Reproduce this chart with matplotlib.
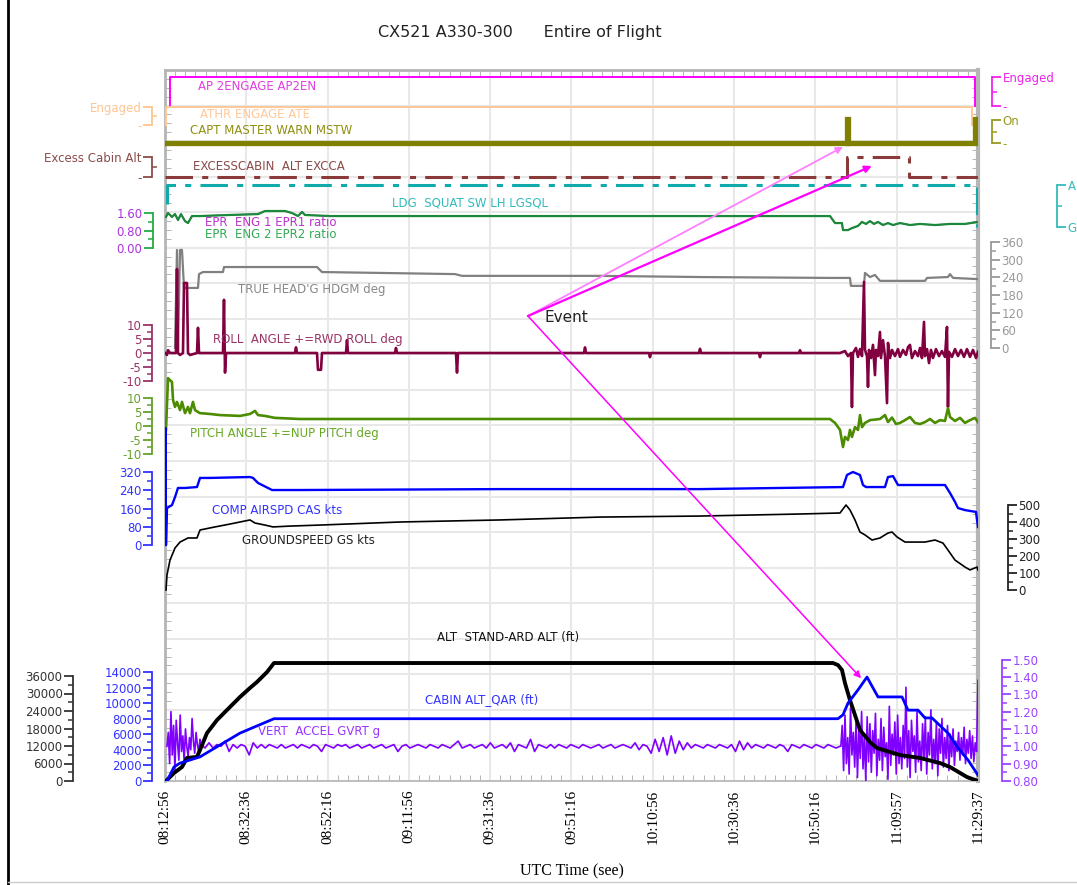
import numpy as np
import matplotlib
matplotlib.use("Agg")
import matplotlib.pyplot as plt
from matplotlib.lines import Line2D
from matplotlib.ticker import AutoMinorLocator

# ---------------- data (time in minutes after 08:12:56) ----------------
time_labels = ["08:12:56", "08:32:36", "08:52:16", "09:11:56", "09:31:36",
               "09:51:16", "10:10:56", "10:30:36", "10:50:16", "11:09:57",
               "11:29:37"]

# discrete parameters (1 = engaged / on / air)
ap_t = [1.2, 1.2, 195.9, 195.9]
ap_v = [0, 1, 1, 0]
athr_t = [0.2, 0.2, 195.2, 195.2]
athr_v = [0, 1, 1, 0]
mstw_t = [0, 165.0, 165.0, 165.15, 165.15, 196.0, 196.0, 196.3]
mstw_v = [0, 0, 1.05, 1.05, 0, 0, 1.05, 1.05]
excca_t = [0, 165.0, 165.0, 179.9, 179.9, 196.68]
excca_v = [0, 0, 1, 1, 0, 0]
ldg_t = [0.5, 0.5, 196.5, 196.5]
ldg_v = [0.55, 1, 1, 0]

epr_t = [0.24, 0.73, 1.69, 2.42, 3.14, 3.87, 4.84, 5.56, 6.53, 8.47, 15.72,
         22.50, 24.19, 29.03, 30.72, 32.18, 33.14, 33.87, 39.92, 160.88,
         162.09, 163.78, 164.02, 165.23, 166.20, 167.65, 168.62, 169.59,
         170.55, 171.52, 172.49, 173.70, 174.91, 176.12, 177.81, 180.23,
         182.65, 186.28, 189.91, 193.54, 196.68]
epr_v = [1.42, 1.60, 1.42, 1.55, 1.28, 1.55, 1.23, 1.14, 1.46, 1.46, 1.51,
         1.55, 1.69, 1.69, 1.60, 1.46, 1.65, 1.51, 1.46, 1.46, 1.14, 1.14,
         0.82, 0.82, 0.91, 1.01, 1.19, 1.10, 1.23, 1.10, 1.19, 1.05, 1.14,
         1.05, 1.14, 1.05, 1.10, 1.05, 1.10, 1.10, 1.19]

hdg_t = [2.42, 2.90, 3.14, 3.63, 4.11, 4.60, 7.98, 8.23, 9.19, 14.03, 14.27,
         36.77, 37.98, 70.16, 71.85, 105.24, 129.43, 160.88, 165.71, 165.95,
         169.10, 169.34, 170.55, 171.76, 172.97, 183.86, 184.35, 189.42,
         189.91, 190.64, 196.68]
hdg_v = [0, 333, 0, 333, 333, 204, 204, 251, 258, 258, 275, 275, 258, 251,
         245, 245, 241, 238, 238, 211, 211, 255, 241, 248, 228, 228, 238,
         241, 251, 238, 234]

roll_t = [0.00, 0.48, 0.73, 1.21, 2.66, 2.90, 3.14, 3.63, 4.35, 4.60, 5.32,
          5.56, 6.05, 7.74, 7.98, 8.23, 14.03, 14.27, 14.52, 14.76, 31.45,
          31.69, 31.93, 36.77, 37.01, 37.74, 37.98, 43.79, 44.03, 44.27,
          55.64, 55.88, 56.13, 70.40, 70.64, 70.88, 101.36, 101.61, 101.85,
          117.09, 117.33, 117.57, 129.19, 129.43, 129.67, 143.70, 143.94,
          144.18, 153.38, 153.62, 153.86,
          163.30, 164.50, 165.23, 165.95, 166.19, 166.43, 167.17, 167.65,
          168.13, 168.62, 169.10, 169.34, 169.83, 170.07, 170.31, 170.80,
          171.28, 171.76, 172.00, 172.49, 172.97, 173.21, 173.70, 174.18,
          174.67, 174.91, 175.39, 175.88, 176.60, 177.33, 177.81, 178.54,
          179.26, 179.75, 180.23, 180.71, 181.44, 182.17, 182.65, 183.13,
          183.62, 183.86, 184.35, 184.83, 185.31, 185.79, 186.52, 187.25,
          187.97, 188.70, 189.18, 189.42, 189.67, 190.39, 191.12, 191.84,
          192.57, 193.29, 194.02, 194.75, 195.47, 196.20, 196.68]
roll_v = [0, -0.7, 1.0, 0, 0, 30, 0, -0.7, 0, 25, 25, 0, -0.7, 0, 9, 0, 0,
          19, -7, 0, 0, 2, 0, 0, -6, -6, 0, 0, 4.6, 0, 0, 1.8, 0, 0, -7, 0,
          0, 2, 0, 0, -1.5, 0, 0, 1.5, 0, 0, -1.5, 0, 0, 1, 0,
          0, 0.7, -1.1, 0, -19.3, 0, 1.8, -1.4, 1.4, -1.1, 25.4, 1.1, -1.1,
          -12.1, 1.1, -1.8, 2.9, -7.9, 1.1, -1.1, 7.5, -1.8, 4.6, -1.1,
          -17.9, 3.6, -1.8, 1.1, -1.1, 1.4, -1.4, 1.1, -0.7, 2.1, 2.9, -1.8,
          0.7, -1.1, 1.8, -1.8, 11.1, -1.1, 1.4, -3.6, 1.1, -1.8, 1.4, -1.1,
          0.7, -1.4, 9.3, -19.3, 0.4, -1.4, 1.4, -1.1, 1.1, -1.4, 1.4, -1.4,
          1.1, -1.8, 0.4]

pitch_t = [0.24, 0.73, 1.21, 1.69, 1.94, 2.42, 2.90, 3.63, 4.11, 4.84, 5.56,
           6.05, 6.77, 7.26, 7.98, 8.47, 10.89, 13.31, 18.14, 20.56, 21.77,
           22.50, 24.19, 26.61, 32.66, 160.88, 162.09, 163.30, 164.02,
           164.50, 165.23, 165.71, 166.19, 166.92, 167.65, 168.13, 168.62,
           169.34, 170.55, 172.97, 174.18, 174.91, 175.88, 176.85, 177.81,
           179.02, 180.23, 181.44, 182.65, 183.86, 185.07, 186.28, 187.49,
           188.70, 189.42, 189.91, 191.12, 192.33, 193.54, 194.75, 195.96,
           196.68]
pitch_v = [-1.4, 17.1, 16.4, 15.7, 9.3, 6.8, 8.6, 5.7, 8.6, 4.6, 6.8, 4.6,
           8.6, 5.7, 5.0, 4.6, 4.3, 3.9, 3.6, 4.3, 5.4, 3.9, 3.6, 2.9, 2.5,
           2.5, 1.1, -1.4, -7.5, -3.9, -5.0, -1.4, -3.9, -0.4, -1.4, 3.9,
           -0.4, 1.1, 2.1, 2.5, 3.9, 1.4, 3.0, 0.7, 1.1, 2.1, 3.2, 1.1, 0.7,
           1.4, 2.5, 1.1, 2.1, 1.8, 6.4, 3.2, 1.8, 2.9, 1.1, 2.1, 2.9, 1.4]

cas_t = [0.0, 0.12, 0.24, 0.48, 1.69, 2.42, 3.14, 4.84, 7.74, 8.47, 10.89,
         20.56, 21.29, 22.50, 25.89, 32.66, 81.04, 129.43, 164.02, 164.99,
         166.43, 168.13, 168.86, 169.59, 174.18, 174.91, 176.12, 177.33,
         188.70, 189.91, 191.12, 191.84, 193.54, 196.20, 196.68]
cas_v = [0, 513, 0, 162, 175, 210, 250, 250, 254, 294, 294, 298, 294, 272,
         241, 241, 245, 245, 254, 307, 320, 307, 263, 254, 254, 298, 302,
         263, 263, 228, 189, 162, 153, 145, 79]

gs_t = [0.24, 0.48, 1.21, 2.42, 3.63, 5.56, 7.74, 8.47, 12.10, 15.72, 19.35,
        20.56, 21.77, 24.19, 26.13, 30.24, 37.50, 56.85, 81.04, 105.24,
        129.43, 153.62, 163.30, 164.75, 165.71, 166.92, 168.13, 169.34,
        171.04, 172.97, 174.91, 175.88, 177.09, 179.02, 183.86, 186.28,
        188.21, 189.42, 191.12, 193.54, 194.75, 196.44, 196.68]
gs_v = [0, 88, 176, 247, 282, 306, 306, 353, 371, 388, 406, 412, 394, 382,
        371, 376, 382, 400, 412, 429, 435, 447, 453, 500, 471, 412, 341, 324,
        294, 306, 335, 341, 312, 282, 282, 294, 276, 235, 176, 135, 118, 135,
        118]

alt_t = [0.24, 2.18, 4.11, 5.32, 7.74, 8.47, 10.16, 12.58, 15.00, 18.14,
         20.56, 22.26, 24.68, 26.37, 161.60, 162.81, 163.78, 164.50, 165.71,
         168.13, 170.55, 172.25, 177.81, 182.65, 187.49, 189.91, 194.02,
         196.68]
alt_v = [0, 2750, 4800, 7900, 8250, 10650, 16450, 20900, 24350, 28800,
         31900, 33950, 37350, 40450, 40450, 39750, 38050, 33600, 27750,
         17500, 13350, 11300, 8900, 7900, 6150, 4800, 1350, 0]

cab_t = [0.48, 2.18, 3.63, 8.47, 18.14, 26.37, 162.81, 164.02, 165.23,
         167.65, 169.83, 172.49, 177.33, 178.30, 179.75, 182.17, 183.86,
         185.55, 189.42, 191.84, 194.26, 196.68]
cab_v = [0, 1800, 2300, 3100, 6150, 8000, 8000, 8500, 10000, 11700, 13350,
         10800, 10800, 10800, 9100, 9100, 8100, 8100, 6150, 4250, 2700, 750]

# vertical acceleration, sampled evenly inside three segments
va_early_span = (0.48, 8.47)
va_early = [1.00, 1.08, 0.90, 1.20, 0.95, 1.12, 0.86, 1.15, 1.02, 0.92, 1.18,
            0.97, 1.06, 0.91, 1.10, 1.00, 0.94, 1.05, 0.98, 1.16, 1.03, 0.96,
            1.08, 1.01, 0.97, 1.04]
va_mid_span = (8.7, 163.3)
va_mid = [1.01, 0.99, 1.02, 0.99, 1.01, 1.00, 1.03, 0.97, 1.01, 0.99, 1.01, 1.00, 0.95, 1.02, 0.99, 1.01, 0.99, 1.01, 1.00, 0.99,
          1.01, 0.99, 1.00, 1.01, 0.99, 1.01, 1.00, 0.99, 1.01, 1.00, 0.97, 1.01, 1.00, 0.99, 1.01, 1.00, 1.01, 0.99, 1.00, 1.01,
          0.99, 1.00, 1.01, 0.99, 1.00, 1.01, 0.99, 1.00, 1.01, 0.97, 1.00, 1.01, 0.99, 1.00, 1.01, 1.00, 0.99, 1.01, 1.00, 0.99,
          1.01, 1.00, 0.99, 1.01, 1.03, 0.99, 1.00, 1.01, 0.99, 1.00, 1.01, 0.99, 1.02, 0.99, 1.00, 1.01, 0.99, 1.02, 0.97, 1.01,
          1.00, 0.99, 1.04, 0.97, 1.01, 1.00, 0.99, 1.01, 0.99, 1.01, 1.00, 0.99, 1.01, 1.00, 0.99, 1.01, 1.00, 0.99, 1.00, 1.01,
          0.99, 1.00, 1.01, 0.99, 1.00, 1.01, 1.00, 0.99, 1.02, 0.98, 1.01, 1.00, 0.96, 1.04, 0.97, 1.05, 0.95, 1.06, 0.96, 1.03,
          0.98, 1.02, 0.99, 1.01, 1.00, 0.99, 1.01, 1.00, 0.99, 1.01, 1.00, 0.99, 1.01, 0.97, 1.03, 0.98, 1.02, 0.99, 1.01, 1.00,
          0.99, 1.01, 1.00, 0.99, 1.01, 1.00, 0.97, 1.01, 1.00, 0.99, 1.01, 1.00, 0.99, 1.01, 1.00, 0.99, 1.01, 1.00, 0.99, 1.00]
va_late_span = (163.5, 196.68)
va_late = [1.00, 1.12, 0.86, 1.18, 0.90, 1.05, 0.84, 1.22, 0.95, 1.08, 0.88, 1.15, 0.82, 1.10, 0.93, 1.20, 0.87, 1.06, 0.80, 1.17,
           0.91, 1.13, 0.85, 1.09, 0.96, 1.19, 0.83, 1.04, 0.92, 1.16, 0.86, 1.11, 0.94, 1.02, 0.81, 1.23, 0.89, 1.07, 0.95, 1.14,
           0.84, 1.18, 0.90, 1.05, 0.87, 1.12, 0.93, 1.34, 0.88, 1.09, 0.82, 1.15, 0.97, 1.06, 0.85, 1.20, 0.91, 1.03, 0.86, 1.13,
           0.92, 1.17, 0.84, 1.08, 0.95, 1.21, 0.87, 1.04, 0.90, 1.14, 0.83, 1.10, 0.96, 1.16, 0.88, 1.05, 0.93, 1.12, 0.86, 1.07,
           0.94, 1.10, 0.89, 1.03, 0.97, 1.08, 0.92, 1.05, 0.95, 1.11, 0.90, 1.04, 0.96, 1.09, 0.93, 1.06, 0.91, 1.02, 0.97, 1.38]


def minutes(s):
    h, m, sec = map(int, s.split(":"))
    h0, m0, s0 = map(int, time_labels[0].split(":"))
    return ((h - h0) * 3600 + (m - m0) * 60 + (sec - s0)) / 60.0


t_ticks = [minutes(s) for s in time_labels]
T_END = t_ticks[-1]

va_t = np.concatenate([np.linspace(*va_early_span, len(va_early)),
                       np.linspace(*va_mid_span, len(va_mid)),
                       np.linspace(*va_late_span, len(va_late))])
va_v = va_early + va_mid + va_late

# ---------------- figure layout (pixel based) ----------------
W, H = 1077, 885
L, R, T, B = 165, 978, 70, 781
fig = plt.figure(figsize=(W / 100, H / 100), dpi=100)
RECT = [L / W, 1 - B / H, (R - L) / W, (B - T) / H]

# base frame + grid
ax0 = fig.add_axes(RECT, label="frame")
ax0.set_xlim(0, T_END)
ax0.set_ylim(0, 20)
ax0.set_xticks(t_ticks, time_labels, rotation=90,
               fontfamily="Liberation Serif", fontsize=11)
ax0.xaxis.set_minor_locator(AutoMinorLocator(8))
ax0.set_yticks(range(21), [""] * 21)
ax0.yaxis.set_minor_locator(AutoMinorLocator(4))
ax0.grid(True, color="#e8e8e8", lw=1.5)
ax0.tick_params(axis="both", which="major", length=0, pad=6)
ax0.tick_params(axis="both", which="minor", direction="in", length=4,
                color="#aaaaaa", top=True, right=True)
for sp in ax0.spines.values():
    sp.set_color("#b5b5b5")
    sp.set_linewidth(2)
ax0.spines["right"].set_linewidth(3)
ax0.spines["bottom"].set_linewidth(1.2)
ax0.set_xlabel("UTC Time (see)", fontfamily="Liberation Serif", fontsize=11.5,
               labelpad=14)


def layer(va, ya, vb, yb, name):
    """transparent axes over the frame; value va sits at pixel row ya, vb at yb"""
    ax = fig.add_axes(RECT, label=name, facecolor="none")
    s = (vb - va) / (yb - ya)
    ax.set_xlim(0, T_END)
    ax.set_ylim(va + s * (B - ya), va + s * (T - ya))
    ax.tick_params(axis="x", which="both", bottom=False, labelbottom=False)
    ax.set_yticks([])
    for sp in ax.spines.values():
        sp.set_visible(False)
    return ax


def scale(ax, side, x_px, lo, hi, major, labels, color, lcolor=None,
          minor=(), mdir="out", fs=8.5):
    sp = ax.spines[side]
    sp.set_visible(True)
    sp.set_position(("axes", (x_px - L) / (R - L)))
    sp.set_bounds(lo, hi)
    sp.set_color(color)
    sp.set_linewidth(1.3)
    ax.yaxis.set_ticks_position(side)
    ax.set_yticks(major, labels)
    ax.set_yticks(list(minor), minor=True)
    ax.tick_params(axis="y", which="major", direction="out", length=6.5,
                   width=1.3, color=color, labelcolor=lcolor or color,
                   labelsize=fs, pad=1)
    ax.tick_params(axis="y", which="minor", direction=mdir, length=3.5,
                   width=1.1, color=color)


# AP
ax_ap = layer(1, 77, 0, 106, "ap")
ax_ap.plot(ap_t, ap_v, color="#ff00ff", lw=1.4)
scale(ax_ap, "right", 992, 0, 1, [0, 1], ["-", "Engaged"], "#ee22ee",
      minor=[0.5])

# ATHR
ax_at = layer(1, 107, 0, 125, "athr")
ax_at.plot(athr_t, athr_v, color="#ffc896", lw=1.4)
scale(ax_at, "left", 152, 0, 1, [0, 1], ["-", "Engaged"], "#ffc490",
      minor=[0.5], mdir="in")

# MASTER WARN
ax_mw = layer(1, 120, 0, 143, "mstw")
ax_mw.plot(mstw_t, mstw_v, color="#808000", lw=3.8, solid_joinstyle="miter")
scale(ax_mw, "right", 992, 0, 1, [0, 1], ["-", "On"], "#999922",
      minor=[0.5])

# EXCESS CABIN ALT
ax_ex = layer(1, 157, 0, 177, "excca")
ax_ex.plot(excca_t, excca_v, color="#8b3a3a", lw=2.2, dashes=(9, 3, 2, 3))
scale(ax_ex, "left", 152, 0, 1, [0, 1], ["-", "Excess Cabin Alt"],
      "#8b4b4b", minor=[0.5], mdir="in")

# LDG SQUAT
ax_ld = layer(1, 185, 0, 227, "ldg")
ax_ld.plot(ldg_t, ldg_v, color="#11aaaa", lw=2.2, dashes=(9, 3, 2, 3))
scale(ax_ld, "right", 1057, 0, 1, [0, 1], ["G", "A"], "#33bbbb",
      minor=[0.5])

# EPR
ax_ep = layer(0, 248, 1.6, 213, "epr")
ax_ep.plot(epr_t, epr_v, color="#bb33cc", lw=1.0)
ax_ep.plot(epr_t, epr_v, color="#1a8a3a", lw=1.6)
scale(ax_ep, "left", 153, 0, 1.6, [0, 0.8, 1.6], ["0.00", "0.80", "1.60"],
      "#22aa44", lcolor="#aa33dd", minor=[0.4, 1.2])

# HEADING
ax_hd = layer(0, 348, 360, 242, "hdg")
ax_hd.plot(hdg_t, hdg_v, color="#808080", lw=1.6)
scale(ax_hd, "right", 991, 0, 360, list(range(0, 361, 60)),
      [str(v) for v in range(0, 361, 60)], "#999999",
      minor=list(range(30, 360, 60)))

# ROLL
ax_ro = layer(0, 353, 10, 325, "roll")
ax_ro.plot(roll_t, roll_v, color="#800040", lw=1.9)
scale(ax_ro, "left", 152, -10, 10, [-10, -5, 0, 5, 10],
      ["-10", "-5", "0", "5", "10"], "#993366",
      minor=[-7.5, -2.5, 2.5, 7.5])

# PITCH
ax_pi = layer(0, 426, 10, 398, "pitch")
ax_pi.plot(pitch_t, pitch_v, color="#4c8c00", lw=1.9)
scale(ax_pi, "left", 152, -10, 10, [-10, -5, 0, 5, 10],
      ["-10", "-5", "0", "5", "10"], "#66a02a",
      minor=[-7.5, -2.5, 2.5, 7.5])

# CAS
ax_ca = layer(0, 545, 320, 472, "cas")
ax_ca.plot(cas_t, cas_v, color="#0000ff", lw=1.7)
scale(ax_ca, "left", 152, 0, 320, [0, 80, 160, 240, 320],
      ["0", "80", "160", "240", "320"], "#3333ff",
      minor=[40, 120, 200, 280])

# GROUNDSPEED
ax_gs = layer(0, 590, 500, 505, "gs")
ax_gs.plot(gs_t, gs_v, color="#000000", lw=1.2)
scale(ax_gs, "right", 1008, 0, 500, list(range(0, 501, 100)),
      [str(v) for v in range(0, 501, 100)], "#222222",
      minor=list(range(50, 500, 100)))

# VERT ACCEL
ax_va = layer(1.0, 748, 1.5, 661, "va")
ax_va.plot(va_t, va_v, color="#8000ff", lw=1.2)
va_ticks = [0.8, 0.9, 1.0, 1.1, 1.2, 1.3, 1.4, 1.5]
scale(ax_va, "right", 1002, 0.8, 1.5, va_ticks,
      ["%.2f" % v for v in va_ticks], "#9944ff",
      minor=[0.85, 0.95, 1.05, 1.15, 1.25, 1.35, 1.45])

# ALT
ax_al = layer(0, 781, 36000, 676, "alt")
ax_al.plot(alt_t, alt_v, color="#000000", lw=2.8)
scale(ax_al, "left", 73, 0, 36000, list(range(0, 36001, 6000)),
      [str(v) for v in range(0, 36001, 6000)], "#333333",
      minor=list(range(3000, 36000, 6000)))

# CABIN ALT
ax_cb = layer(0, 781, 14000, 672, "cabin")
ax_cb.plot(cab_t, cab_v, color="#0000ff", lw=2.0)
scale(ax_cb, "left", 152, 0, 14000, list(range(0, 14001, 2000)),
      [str(v) for v in range(0, 14001, 2000)], "#3333ff",
      minor=list(range(1000, 14000, 2000)))


# ---------------- trace captions ----------------
def caption(x, y, s, color, fs=8.5):
    fig.text(x / W, 1 - y / H, s, color=color, fontsize=fs,
             ha="left", va="center")


caption(198, 86, "AP 2ENGAGE AP2EN", "#e040e0")
caption(200, 114, "ATHR ENGAGE ATE", "#ffc898")
caption(190, 131, "CAPT MASTER WARN MSTW", "#8f8f10")
caption(193, 167, "EXCESSCABIN  ALT EXCCA", "#8b4a4a")
caption(392, 203, "LDG  SQUAT SW LH LGSQL", "#33bbbb")
caption(205, 223, "EPR  ENG 1 EPR1 ratio", "#bb33cc")
caption(205, 235, "EPR  ENG 2 EPR2 ratio", "#33aa55")
caption(238, 289, "TRUE HEAD'G HDGM deg", "#888888")
caption(213, 339, "ROLL  ANGLE +=RWD ROLL deg", "#993366")
caption(190, 433, "PITCH ANGLE +=NUP PITCH deg", "#66aa22")
caption(212, 510, "COMP AIRSPD CAS kts", "#3333ff")
caption(242, 540, "GROUNDSPEED GS kts", "#222222")
caption(437, 638, "ALT  STAND-ARD ALT (ft)", "#111111")
caption(425, 700, "CABIN ALT_QAR (ft)", "#3333ff")
caption(258, 732, "VERT  ACCEL GVRT g", "#9933ff")

fig.text(520 / W, 1 - 33 / H, "CX521 A330-300      Entire of Flight",
         fontsize=11.5, color="#222222", ha="center", va="center")

# ---------------- event arrows ----------------
tail = (87.8, 13.2)  # roll-axis data coords
ax_cb.annotate("", xy=(164.0, -0.17), xycoords=ax_mw.transData,
               xytext=tail, textcoords=ax_ro.transData,
               arrowprops=dict(arrowstyle="-|>", color="#ff80ff", lw=1.3,
                               mutation_scale=10, shrinkA=0, shrinkB=0),
               annotation_clip=False)
ax_cb.annotate("", xy=(171.0, 0.55), xycoords=ax_ex.transData,
               xytext=tail, textcoords=ax_ro.transData,
               arrowprops=dict(arrowstyle="-|>", color="#ff00ff", lw=1.6,
                               mutation_scale=10, shrinkA=0, shrinkB=0),
               annotation_clip=False)
ax_cb.annotate("", xy=(168.4, 13200), xycoords=ax_cb.transData,
               xytext=tail, textcoords=ax_ro.transData,
               arrowprops=dict(arrowstyle="-|>", color="#ff00ff", lw=1.1,
                               mutation_scale=10, shrinkA=0, shrinkB=0),
               annotation_clip=False)
ax_ro.text(91.9, 12.5, "Event", fontsize=11, color="#222222",
           ha="left", va="center")

# page borders
fig.add_artist(Line2D([8 / W, 8 / W], [0, 1], color="black", lw=2,
                      transform=fig.transFigure))
fig.add_artist(Line2D([8 / W, 1], [1 - 882 / H, 1 - 882 / H],
                      color="#cccccc", lw=1, transform=fig.transFigure))

fig.savefig("out.png", dpi=100)
